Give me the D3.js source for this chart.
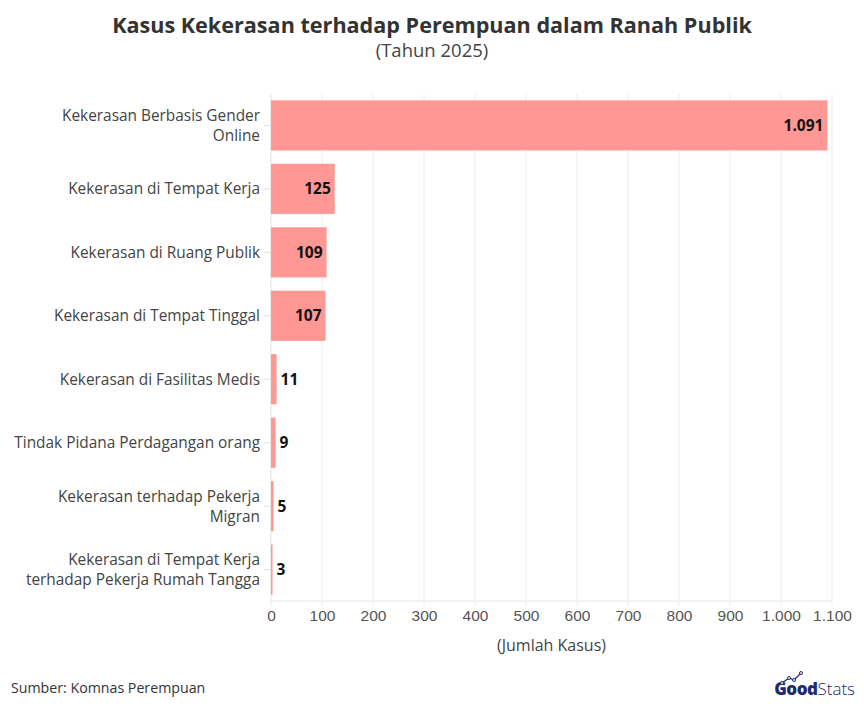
<!DOCTYPE html>
<html><head><meta charset="utf-8">
<script src="https://cdn.jsdelivr.net/npm/d3@7"></script>
<style>body{margin:0;background:#fff;}svg{display:block;font-family:"Open Sans",sans-serif;}</style>
</head><body><svg id="c" width="864" height="710"></svg>
<script>
const categories = [
  ["Kekerasan Berbasis Gender", "Online"],
  ["Kekerasan di Tempat Kerja"],
  ["Kekerasan di Ruang Publik"],
  ["Kekerasan di Tempat Tinggal"],
  ["Kekerasan di Fasilitas Medis"],
  ["Tindak Pidana Perdagangan orang"],
  ["Kekerasan terhadap Pekerja", "Migran"],
  ["Kekerasan di Tempat Kerja", "terhadap Pekerja Rumah Tangga"]
];
const values = [1091, 125, 109, 107, 11, 9, 5, 3];
const xTicks = [0,100,200,300,400,500,600,700,800,900,1000,1100];

const svg = d3.select("#c");
const m = {left:271, right:832, top:94, bottom:601};
const fmt = v => d3.format(",")(v).replace(/,/g, ".");

const x = d3.scaleLinear().domain([0,1100]).range([m.left, m.right]);
const y = d3.scaleBand().domain(d3.range(values.length)).range([m.top, m.bottom]).paddingInner(0.21).paddingOuter(0.1);

// gridlines
svg.append("g").selectAll("line").data(xTicks).join("line")
  .attr("x1", d=>x(d)).attr("x2", d=>x(d)).attr("y1", m.top).attr("y2", m.bottom+5)
  .attr("stroke", "#ececec").attr("stroke-width", 1);
svg.append("line").attr("x1", m.left).attr("x2", m.right).attr("y1", m.bottom).attr("y2", m.bottom).attr("stroke","#e6e6e6");
svg.append("line").attr("x1", m.left-0.5).attr("x2", m.left-0.5).attr("y1", m.top).attr("y2", m.bottom).attr("stroke","#ececec");

// x axis
const xa = svg.append("g").attr("transform", `translate(0,${m.bottom})`)
  .call(d3.axisBottom(x).tickValues(xTicks).tickFormat(fmt).tickSize(0).tickPadding(9));
xa.select(".domain").remove();
xa.selectAll("text").attr("fill","#555").attr("font-size",15.5);

// y axis ticks
svg.append("g").selectAll("line").data(values).join("line")
  .attr("x1", m.left-7).attr("x2", m.left-1)
  .attr("y1", (d,i)=>y(i)+y.bandwidth()/2).attr("y2", (d,i)=>y(i)+y.bandwidth()/2)
  .attr("stroke","#e0e0e0");

// bars
svg.append("g").selectAll("rect").data(values).join("rect")
  .attr("x", x(0)).attr("y", (d,i)=>y(i))
  .attr("width", d=>x(d)-x(0)).attr("height", y.bandwidth())
  .attr("fill", "#ff9894");

// value labels
svg.append("g").selectAll("text").data(values).join("text")
  .attr("x", d => d > 50 ? x(d)-4 : x(d)+4)
  .attr("y", (d,i)=>y(i)+y.bandwidth()/2)
  .attr("dy", "0.35em")
  .attr("text-anchor", d => d > 50 ? "end" : "start")
  .attr("font-size", 15.5).attr("font-weight", 700).attr("fill", "#111")
  .text(fmt);

// category labels
const cl = svg.append("g").selectAll("text").data(categories).join("text")
  .attr("text-anchor","end").attr("font-size",15.4).attr("fill","#444")
  .attr("transform", (d,i)=>`translate(${m.left-11},${y(i)+y.bandwidth()/2})`);
cl.each(function(d){
  const t = d3.select(this);
  const n = d.length;
  d.forEach((line,k)=>{
    t.append("tspan").attr("x",0).attr("y", (k-(n-1)/2)*20).attr("dy","0.35em").text(line);
  });
});

// title
svg.append("text").attr("x",432).attr("y",33).attr("text-anchor","middle")
  .attr("font-size",21.6).attr("font-weight",700).attr("fill","#333")
  .text("Kasus Kekerasan terhadap Perempuan dalam Ranah Publik");
svg.append("text").attr("x",432).attr("y",57).attr("text-anchor","middle")
  .attr("font-size",18.5).attr("fill","#444").text("(Tahun 2025)");

// axis title
svg.append("text").attr("x",(m.left+m.right)/2).attr("y",651).attr("text-anchor","middle")
  .attr("font-size",16).attr("fill","#444").text("(Jumlah Kasus)");

// source
svg.append("text").attr("x",11).attr("y",693).attr("font-size",14.2).attr("fill","#333").text("Sumber: Komnas Perempuan");

// logo
const lg = svg.append("g");
const lt = lg.append("text").attr("x",855).attr("y",695).attr("text-anchor","end").attr("font-size",17).attr("fill","#1f2a6b");
lt.append("tspan").attr("font-weight",800).attr("letter-spacing",-0.5).text("Good");
lt.append("tspan").attr("font-weight",300).text("Stats");
lg.append("path").attr("d","M782,683 L789,678 L794,680 L801,673").attr("fill","none").attr("stroke","#1f2a6b").attr("stroke-width",1.2);
lg.selectAll("circle").data([[782,683],[789,678],[794,680],[801,673]]).join("circle")
  .attr("cx",d=>d[0]).attr("cy",d=>d[1]).attr("r",1.5).attr("fill","#fff").attr("stroke","#1f2a6b").attr("stroke-width",1);
</script></body></html>
